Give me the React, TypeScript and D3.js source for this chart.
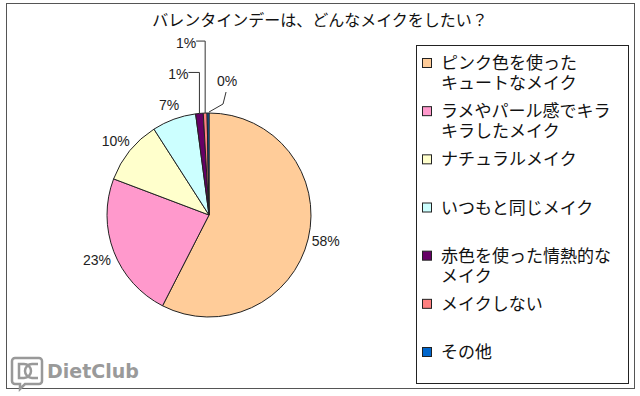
import React, { useEffect, useRef } from 'react';
import * as d3 from 'd3';

const title = 'バレンタインデーは、どんなメイクをしたい？';
const categories = [
  'ピンク色を使ったキュートなメイク',
  'ラメやパール感でキラキラしたメイク',
  'ナチュラルメイク',
  'いつもと同じメイク',
  '赤色を使った情熱的なメイク',
  'メイクしない',
  'その他',
];
// legend text as it is wrapped in the picture
const legendLines = [
  ['ピンク色を使った', 'キュートなメイク'],
  ['ラメやパール感でキラ', 'キラしたメイク'],
  ['ナチュラルメイク'],
  ['いつもと同じメイク'],
  ['赤色を使った情熱的な', 'メイク'],
  ['メイクしない'],
  ['その他'],
];
const values = [57.7, 23.3, 10.2, 7.0, 1.2, 0.6, 0.3];
const colors = ['#FFCC99', '#FF99CC', '#FFFFCC', '#CCFFFF', '#660066', '#FF8080', '#0066CC'];

const W = 640;
const H = 396;
const JP = '"Noto Sans CJK JP", "Noto Sans", sans-serif';
const NUM = '"Liberation Sans Narrow", "Liberation Sans", Arial, sans-serif';

const App: React.FC = () => {
  const svgRef = useRef<SVGSVGElement>(null);

  useEffect(() => {
    if (!svgRef.current) return;
    const svg = d3.select(svgRef.current);
    svg.selectAll('*').remove();

    svg.append('rect').attr('width', W).attr('height', H).attr('fill', '#fff');

    // outer frame
    svg.append('rect')
      .attr('x', 6.5).attr('y', 3.5).attr('width', 628).attr('height', 385)
      .attr('fill', 'none').attr('stroke', '#555').attr('stroke-width', 1);

    svg.append('text')
      .attr('x', 320).attr('y', 22)
      .attr('text-anchor', 'middle').attr('dominant-baseline', 'middle')
      .style('font-family', JP).style('font-size', '16px').attr('fill', '#111')
      .text(title);

    // pie
    const cx = 209, cy = 215, r = 102;
    const pie = d3.pie<number>().sort(null).value(d => d);
    const arcs = pie(values);
    const arc = d3.arc<d3.PieArcDatum<number>>().innerRadius(0).outerRadius(r);

    const g = svg.append('g').attr('transform', `translate(${cx},${cy})`);
    g.selectAll('path.slice')
      .data(arcs)
      .join('path')
      .attr('class', 'slice')
      .attr('d', arc)
      .attr('fill', (_, i) => colors[i])
      .attr('stroke', '#222')
      .attr('stroke-width', 1);

    // labels (tiny slices get a leader line)
    const leader: Record<number, { dx: number; dy: number }> = {
      4: { dx: -21, dy: -38 },
      5: { dx: -19, dy: -69 },
      6: { dx: 19, dy: -31 },
    };
    arcs.forEach((a, i) => {
      const mid = (a.startAngle + a.endAngle) / 2;
      const sx = Math.sin(mid), sy = -Math.cos(mid);
      const label = `${Math.round(a.data)}%`;
      const w = label.length * 8;
      let lx: number, ly: number;
      const ox = sx * r, oy = sy * r;
      if (leader[i]) {
        lx = ox + leader[i].dx;
        ly = oy + leader[i].dy;
        let pts: [number, number][];
        if (leader[i].dx < 0) {
          pts = [[lx + w / 2 + 2, ly - 3], [ox, ly - 3], [ox, oy]];
        } else {
          pts = [[lx - 1, ly + 10], [lx - 4, ly + 22], [ox + 1, oy - 1]];
        }
        g.append('path')
          .attr('d', d3.line()(pts))
          .attr('fill', 'none').attr('stroke', '#333').attr('stroke-width', 1);
      } else {
        const R0 = r + 6;
        lx = sx * R0 + sx * w / 2;
        ly = sy * R0 + sy * 8 + (sx < 0 && sy > 0 ? 5 : 0);
      }
      g.append('text')
        .attr('x', lx).attr('y', ly)
        .attr('text-anchor', 'middle').attr('dominant-baseline', 'middle')
        .style('font-family', NUM).style('font-size', '14px').attr('fill', '#222')
        .text(label);
    });

    // legend
    svg.append('rect')
      .attr('x', 416.5).attr('y', 45.5).attr('width', 212).attr('height', 338)
      .attr('fill', '#fff').attr('stroke', '#222').attr('stroke-width', 1);

    const ly = d3.scalePoint<string>().domain(categories).range([63, 352]);
    const lg = svg.append('g');
    categories.forEach((c, i) => {
      const y0 = ly(c) as number;
      lg.append('rect')
        .attr('x', 422.5).attr('y', y0 - 4.5).attr('width', 9).attr('height', 9)
        .attr('fill', colors[i]).attr('stroke', '#222').attr('stroke-width', 1);
      const t = lg.append('text')
        .attr('x', 441).attr('y', y0 + 6)
        .style('font-family', JP).style('font-size', '17px').attr('fill', '#111');
      legendLines[i].forEach((s, j) => {
        t.append('tspan')
          .attr('x', 441).attr('dy', j === 0 ? 0 : 20)
          .text(s);
      });
    });

    // watermark
    const wm = svg.append('g').attr('fill', 'none').attr('stroke', '#999').attr('stroke-width', 2.5);
    wm.append('path')
      .attr('d', 'M15,358 h24 a3,3 0 0 1 3,3 v20 a3,3 0 0 1 -3,3 h-14 l-5,5 v-5 h-5 a3,3 0 0 1 -3,-3 v-20 a3,3 0 0 1 3,-3 z');
    wm.append('path').attr('d', 'M19,364 h5 a7,7 0 0 1 0,14 h-5 z');
    wm.append('path').attr('d', 'M38,364 h-6 a7,7 0 0 0 0,14 h6');
    svg.append('text')
      .attr('x', 47).attr('y', 372)
      .attr('dominant-baseline', 'middle')
      .style('font-family', '"DejaVu Sans", sans-serif').style('font-size', '19px').style('font-weight', 'bold')
      .attr('fill', '#9a9a9a')
      .text('DietClub');
  }, []);

  return (
    <svg
      ref={svgRef}
      width={W}
      height={H}
      style={{ position: 'absolute', left: 0, top: 0, display: 'block' }}
    />
  );
};

export default App;
